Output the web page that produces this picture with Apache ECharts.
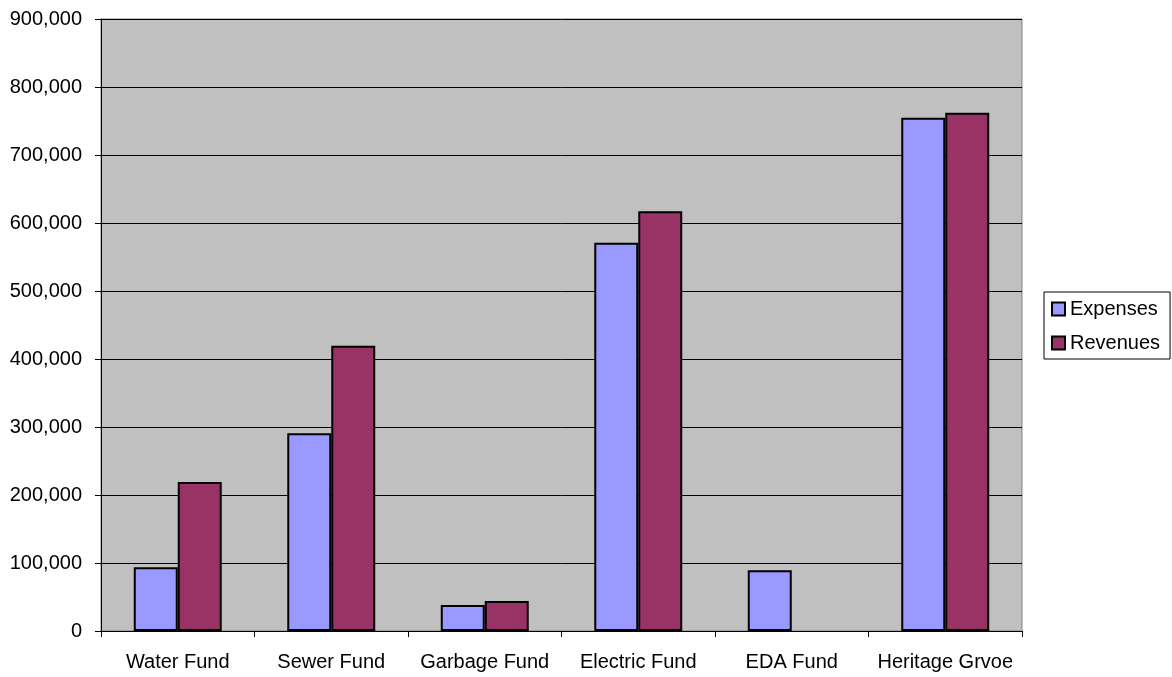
<!DOCTYPE html>
<html>
<head>
<meta charset="utf-8">
<script src="https://cdn.jsdelivr.net/npm/echarts@6/dist/echarts.min.js"></script>
<style>
  html, body { margin: 0; padding: 0; background: #fff; }
  #chart { width: 1172px; height: 677px; }
</style>
</head>
<body>
<div id="chart"></div>
<script>
// Fund budget comparison
const categories = ['Water Fund', 'Sewer Fund', 'Garbage Fund', 'Electric Fund', 'EDA Fund', 'Heritage Grvoe'];
const expenses = [93700, 290700, 38200, 571000, 89200, 754900];
const revenues = [219000, 419500, 44100, 617200, 0, 762200];

const font = '"Liberation Sans", Arial, sans-serif';

const chart = echarts.init(document.getElementById('chart'));
chart.setOption({
  animation: false,
  textStyle: { fontFamily: font },
  grid: {
    left: 101, right: 150, top: 19, bottom: 46,
    show: true, backgroundColor: '#c0c0c0', borderColor: '#808080', borderWidth: 1
  },
  legend: {
    orient: 'vertical',
    left: 1044, top: 292,
    padding: [7, 10, 6, 7],
    itemGap: 14,
    itemWidth: 13, itemHeight: 13,
    icon: 'rect',
    backgroundColor: '#fff',
    borderColor: '#000', borderWidth: 1,
    textStyle: { fontFamily: font, fontSize: 20, color: '#000', lineHeight: 20 },
    data: ['Expenses', 'Revenues']
  },
  xAxis: {
    type: 'category',
    data: categories,
    axisLine: { lineStyle: { color: '#000', width: 1 } },
    axisTick: { show: true, interval: 0, length: 6, lineStyle: { color: '#000' } },
    axisLabel: { color: '#000', fontSize: 20, fontFamily: font, margin: 21, interval: 0 }
  },
  yAxis: {
    type: 'value',
    min: 0, max: 900000, interval: 100000,
    axisLine: { show: true, lineStyle: { color: '#000', width: 1 } },
    axisTick: { show: true, length: 6, lineStyle: { color: '#000' } },
    axisLabel: {
      color: '#000', fontSize: 20, fontFamily: font, margin: 19,
      formatter: v => v.toLocaleString('en-US')
    },
    splitLine: { show: true, lineStyle: { color: '#000', width: 1 } }
  },
  series: [
    {
      name: 'Expenses', type: 'bar', data: expenses,
      barGap: '0%', barCategoryGap: '42.7%',
      itemStyle: { color: '#9999ff', borderColor: '#000', borderWidth: 2 }
    },
    {
      name: 'Revenues', type: 'bar',
      data: revenues.map(v => v === 0 ? null : v),
      barGap: '0%', barCategoryGap: '42.7%',
      itemStyle: { color: '#993366', borderColor: '#000', borderWidth: 2 }
    }
  ]
});
</script>
</body>
</html>
